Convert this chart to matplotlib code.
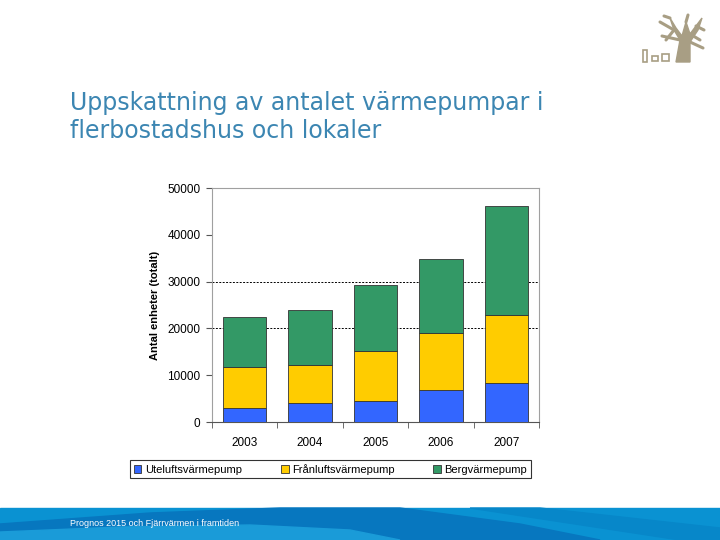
import numpy as np
import matplotlib.pyplot as plt
from matplotlib.patches import Rectangle, Polygon

# data
years = ['2003', '2004', '2005', '2006', '2007']
uteluft = [2900, 4100, 4400, 6900, 8400]
franluft = [8800, 8000, 10700, 12200, 14500]
berg = [10700, 11800, 14200, 15700, 23300]
series_names = ['Uteluftsvärmepump', 'Frånluftsvärmepump', 'Bergvärmepump']
colors = ['#3366FF', '#FFCC00', '#339966']
grid_levels = [20000, 30000]

fig = plt.figure(figsize=(7.2, 5.4), dpi=100)
fig.patch.set_facecolor('white')

# background layer for title, footer and logo
bg = fig.add_axes([0, 0, 1, 1])
bg.set_xlim(0, 720)
bg.set_ylim(540, 0)
bg.axis('off')

# footer band with waves
bg.add_patch(Rectangle((0, 508), 720, 32, color='#0A92D2', zorder=1))
bg.add_patch(Polygon([(0, 540), (0, 524), (150, 513), (280, 508), (400, 508),
                      (520, 524), (600, 540)], closed=True, color='#0777BF', zorder=2))
bg.add_patch(Polygon([(0, 540), (0, 532), (120, 527), (250, 525), (350, 530),
                      (400, 540)], closed=True, color='#1A9BD8', zorder=3))
bg.add_patch(Polygon([(470, 508), (540, 508), (720, 528), (720, 540), (680, 540)],
                     closed=True, color='#0787C9', zorder=2))
bg.text(70, 524, 'Prognos 2015 och Fjärrvärmen i framtiden', color='white',
        fontsize=6.5, family='Liberation Sans', va='center', ha='left', zorder=5)

# title
bg.text(70, 117, 'Uppskattning av antalet värmepumpar i\nflerbostadshus och lokaler',
        color='#3C86B2', fontsize=17, family='DejaVu Sans', va='center', ha='left',
        linespacing=1.25)

# rough tree logo
tc = '#A89E84'
bg.add_patch(Polygon([(676, 62), (680, 40), (674, 30), (670, 18), (676, 28),
                      (682, 36), (686, 22), (690, 34), (696, 26), (702, 18),
                      (698, 30), (690, 42), (690, 62)], closed=True, color=tc))
for seg in [((674, 30), (660, 22)), ((680, 40), (662, 36)), ((670, 18), (664, 16)),
            ((696, 26), (704, 30)), ((690, 42), (703, 48)), ((686, 22), (688, 15)),
            ((674, 30), (666, 40)), ((690, 34), (700, 40))]:
    bg.plot([seg[0][0], seg[1][0]], [seg[0][1], seg[1][1]], color=tc, lw=2.2,
            solid_capstyle='round')
bg.add_patch(Rectangle((643, 50), 4, 12, fill=False, edgecolor=tc, lw=1.2))
bg.add_patch(Rectangle((652, 56), 6, 5, fill=False, edgecolor=tc, lw=1.2))
bg.add_patch(Rectangle((662, 54), 7, 7, fill=False, edgecolor=tc, lw=1.2))

# chart
ax = fig.add_axes([0.294, 0.2185, 0.455, 0.433])
x = np.arange(len(years))
bottom = np.zeros(len(years))
for vals, name, c in zip([uteluft, franluft, berg], series_names, colors):
    ax.bar(x, vals, 0.66, bottom=bottom, color=c, edgecolor='#333333',
           linewidth=0.6, label=name, zorder=3)
    bottom = bottom + np.array(vals)

for lvl in grid_levels:
    ax.axhline(lvl, color='black', lw=0.7, ls=(0, (2, 1.5)), zorder=1)

ax.set_xlim(-0.5, len(years) - 0.5)
ax.set_ylim(0, 50000)
ax.set_yticks(np.arange(0, 50001, 10000))
ax.set_xticks(x)
ax.set_xticklabels(years)
ax.set_xticks(np.arange(-0.5, len(years), 1), minor=True)
ax.tick_params(axis='x', which='major', length=0, pad=11, labelsize=8.5)
ax.tick_params(axis='x', which='minor', length=4, direction='out', color='#555555')
ax.tick_params(axis='y', length=4, direction='out', color='#555555', labelsize=8.5, pad=4)
for lab in ax.get_xticklabels() + ax.get_yticklabels():
    lab.set_family('Liberation Sans')

ax.set_ylabel('Antal enheter (totalt)', fontsize=8, fontweight='bold',
              family='Liberation Sans', labelpad=5)
for side in ['left', 'top', 'right']:
    ax.spines[side].set_color('#A0A0A0')
    ax.spines[side].set_linewidth(0.8)
ax.spines['bottom'].set_color('#555555')
ax.spines['bottom'].set_linewidth(0.8)

leg = fig.legend(loc='lower left', bbox_to_anchor=(0.181, 0.115, 0.556, 0.037),
                 mode='expand', ncol=3, frameon=True, fancybox=False,
                 prop={'family': 'Liberation Sans', 'size': 8},
                 handlelength=0.7, handleheight=0.7, handletextpad=0.3,
                 borderaxespad=0, borderpad=0.3)
leg.get_frame().set_edgecolor('black')
leg.get_frame().set_linewidth(0.8)

fig.savefig('out.png', dpi=100)
